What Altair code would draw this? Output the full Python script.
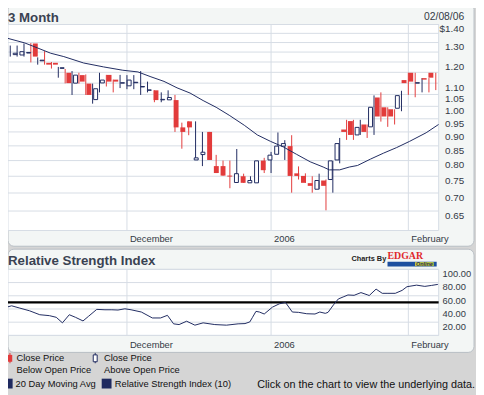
import altair as alt
import numpy as np
import pandas as pd

# ---------------- data ----------------
day_index = list(range(63))
opens = [1.237, 1.235, 1.245, 1.295, 1.206, 1.196, 1.196, 1.169, 1.148, 1.100,
         1.137, 1.098, 1.028, 1.101, 1.138, 1.116, 1.100, 1.088, 1.102, 1.083,
         1.068, 1.068, 1.027, 1.027, 1.026, 0.917, 0.940, 0.802, 0.820, 0.900,
         0.782, 0.782, 0.752, 0.731, 0.750, 0.730, 0.730, 0.800, 0.802, 0.821,
         0.849, 0.849, 0.759, 0.751, 0.729, 0.711, 0.737, 0.740, 0.802, 0.909,
         0.941, 0.889, 0.928, 0.919, 1.037, 0.996, 0.988, 0.992, 1.114, 1.148,
         1.100, 1.123, 1.148]
highs = [1.284, 1.284, 1.295, 1.297, 1.223, 1.255, 1.200, 1.176, 1.166, 1.156,
         1.148, 1.140, 1.098, 1.148, 1.138, 1.116, 1.138, 1.137, 1.137, 1.156,
         1.107, 1.068, 1.059, 1.068, 1.048, 0.935, 0.940, 0.940, 0.900, 0.900,
         0.819, 0.800, 0.800, 0.839, 0.758, 0.750, 0.799, 0.809, 0.829, 0.898,
         0.870, 0.888, 0.781, 0.759, 0.750, 0.758, 0.740, 0.799, 0.878, 0.946,
         0.946, 0.946, 0.928, 1.046, 1.059, 0.996, 0.988, 1.066, 1.148, 1.148,
         1.123, 1.123, 1.148]
lows = [1.227, 1.227, 1.227, 1.198, 1.187, 1.187, 1.168, 1.125, 1.099, 1.048,
        1.098, 1.048, 1.011, 1.059, 1.085, 1.059, 1.078, 1.073, 1.073, 1.048,
        1.059, 1.017, 1.017, 1.027, 0.900, 0.840, 0.888, 0.802, 0.782, 0.802,
        0.760, 0.752, 0.714, 0.731, 0.730, 0.730, 0.730, 0.760, 0.760, 0.821,
        0.802, 0.701, 0.740, 0.730, 0.701, 0.711, 0.652, 0.701, 0.791, 0.871,
        0.871, 0.889, 0.878, 0.889, 0.939, 0.919, 0.928, 0.980, 1.048, 1.038,
        1.059, 1.059, 1.069]
closes = [1.244, 1.252, 1.248, 1.227, 1.209, 1.187, 1.187, 1.172, 1.100, 1.137,
          1.107, 1.048, 1.075, 1.114, 1.107, 1.107, 1.102, 1.114, 1.104, 1.085,
          1.070, 1.026, 1.029, 1.037, 0.917, 0.900, 0.917, 0.809, 0.828, 0.802,
          0.760, 0.752, 0.749, 0.758, 0.730, 0.737, 0.799, 0.769, 0.818, 0.849,
          0.858, 0.751, 0.751, 0.730, 0.721, 0.737, 0.721, 0.799, 0.858, 0.900,
          0.889, 0.917, 0.900, 0.996, 0.959, 0.959, 0.959, 1.045, 1.100, 1.107,
          1.102, 1.116, 1.125]

ma_pos = [-0.5, 2.1, 4.0, 5.9, 7.8, 10.7, 13.6, 16.4, 18.6, 20.5, 22.4, 24.3,
          26.2, 28.1, 30.0, 31.9, 34.1, 36.0, 37.9, 39.8, 41.7, 43.7, 45.6,
          46.5, 48.0, 49.4, 50.6, 52.5, 54.4, 56.3, 58.2, 60.6, 62.4]
ma_val = [1.324, 1.298, 1.271, 1.244, 1.227, 1.195, 1.176, 1.160, 1.152, 1.129,
          1.108, 1.079, 1.056, 1.024, 0.996, 0.964, 0.925, 0.889, 0.866, 0.846,
          0.821, 0.796, 0.779, 0.770, 0.770, 0.779, 0.784, 0.805, 0.825, 0.844,
          0.866, 0.897, 0.928]

rsi_pos = [-0.5, 0.2, 1.4, 2.8, 4.3, 5.7, 6.7, 7.6, 8.6, 9.5, 10.6, 11.4, 12.6,
           13.8, 14.8, 15.7, 16.7, 17.6, 19.1, 20.7, 21.9, 22.9, 23.8, 24.6,
           25.7, 26.9, 28.1, 29.8, 31.5, 33.2, 34.2, 34.9, 35.3, 35.8, 36.3,
           37.0, 38.2, 39.2, 40.1, 41.1, 42.0, 43.2, 44.4, 45.1, 45.9, 46.3,
           47.1, 47.8, 48.5, 49.2, 50.1, 51.1, 52.1, 52.3, 53.3, 54.2, 54.9,
           56.1, 57.1, 57.8, 59.2, 60.4, 61.4, 62.3]
rsi_val = [42.8, 44.8, 41.3, 37.3, 31.3, 29.9, 27.4, 19.0, 31.3, 27.4, 21.9,
           28.9, 39.4, 38.8, 38.8, 38.4, 40.3, 38.8, 35.4, 26.4, 26.4, 30.4,
           17.5, 16.4, 21.5, 15.5, 19.0, 16.4, 15.5, 17.5, 17.9, 20.4, 27.4,
           36.4, 35.4, 32.4, 42.8, 47.8, 49.9, 35.4, 34.9, 32.8, 32.4, 35.4,
           33.4, 34.9, 46.3, 55.2, 58.2, 61.2, 60.7, 64.8, 61.2, 60.3, 70.1,
           63.7, 63.7, 63.7, 68.2, 73.7, 76.1, 74.2, 75.7, 77.2]
rsi_ref_level = [50]

price_grid = [1.40, 1.35, 1.30, 1.25, 1.20, 1.15, 1.10, 1.05, 1.00, 0.95,
              0.90, 0.85, 0.80, 0.75, 0.70, 0.65]
price_ticks = [1.40, 1.30, 1.20, 1.10, 1.05, 1.00, 0.95, 0.90, 0.85, 0.80,
               0.75, 0.70, 0.65]
price_tick_labels = ["$1.40", "1.30", "1.20", "1.10", "1.05", "1.00", "0.95",
                     "0.90", "0.85", "0.80", "0.75", "0.70", "0.65"]
rsi_grid = [0, 20, 40, 60, 80, 100]
rsi_ticks = [100, 80, 60, 40, 20]
rsi_tick_labels = ["100.00", "80.00", "60.00", "40.00", "20.00"]
month_pos = [17, 38, 58]
month_labels = ["December", "2006", "February"]

# ---------------- styling / layout ----------------
RED = "#e23b3b"
NAVY = "#1f2a60"
GRID = "#d6dce4"
PANEL = "#f3f6f5"
PANEL_STROKE = "#b8bec4"
BG = "#d5d5d5"
TXT = "#343a46"
TITLE = "#3a4252"
FONT = "Liberation Sans"

W, H = 476, 387
PX0, PX1 = 0, 438          # plot x extent
PY0, PY1 = 13.5, 223       # price plot y extent
RY0, RY1 = 262.5, 329.7    # rsi plot y extent

XS = alt.Scale(domain=[0, 62], range=[2.3, 435.1], nice=False, zero=False)
PS = alt.Scale(type="log", domain=[0.6, 1.4], range=[PY1, PY0], nice=False)
RS = alt.Scale(domain=[0, 100], range=[RY1, RY0], nice=False, zero=False)

one = pd.DataFrame({"k": [0]})

df = pd.DataFrame({"i": day_index, "open": opens, "high": highs,
                   "low": lows, "close": closes})
df["dir"] = np.where(df["close"] < df["open"], "down", "up")
down = df[df["dir"] == "down"]
up = df[df["dir"] == "up"]
ma = pd.DataFrame({"pos": ma_pos, "val": ma_val})
rsi = pd.DataFrame({"pos": rsi_pos, "val": rsi_val})
pg = pd.DataFrame({"v": price_grid})
pt = pd.DataFrame({"v": price_ticks, "t": price_tick_labels})
rg = pd.DataFrame({"v": rsi_grid})
rt = pd.DataFrame({"v": rsi_ticks, "t": rsi_tick_labels})
mo = pd.DataFrame({"i": month_pos, "t": month_labels})
ref = pd.DataFrame({"v": rsi_ref_level})


def box(x, x2, y, y2, **kw):
    return alt.Chart(one).mark_rect(**kw).encode(
        x=alt.value(x), x2=alt.value(x2), y=alt.value(y), y2=alt.value(y2))


def label(text, x, y, **kw):
    base = dict(font=FONT, fontSize=9.5, color="#111111", align="left",
                baseline="middle")
    base.update(kw)
    return alt.Chart(one).mark_text(text=text, **base).encode(
        x=alt.value(x), y=alt.value(y))


layers = []
# panels
layers.append(box(0, 474, -8, 239, fill=PANEL, stroke=PANEL_STROKE,
                  strokeWidth=1, cornerRadius=6))
layers.append(box(0, 474, 242, 347, fill=PANEL, stroke=PANEL_STROKE,
                  strokeWidth=1, cornerRadius=6))
# plot areas
layers.append(box(PX0, PX1, PY0, PY1, fill="white", stroke=GRID, strokeWidth=1))
layers.append(box(PX0, PX1, RY0, RY1, fill="white", stroke=GRID, strokeWidth=1))

# gridlines
layers.append(alt.Chart(pg).mark_rule(color=GRID, strokeWidth=1).encode(
    y=alt.Y("v:Q", scale=PS, axis=None), x=alt.value(PX0), x2=alt.value(PX1)))
layers.append(alt.Chart(rg).mark_rule(color=GRID, strokeWidth=1).encode(
    y=alt.Y("v:Q", scale=RS, axis=None), x=alt.value(PX0), x2=alt.value(PX1)))
layers.append(alt.Chart(mo).mark_rule(color=GRID, strokeWidth=1).encode(
    x=alt.X("i:Q", scale=XS, axis=None), y=alt.value(PY0), y2=alt.value(PY1)))
layers.append(alt.Chart(mo).mark_rule(color=GRID, strokeWidth=1).encode(
    x=alt.X("i:Q", scale=XS, axis=None), y=alt.value(RY0), y2=alt.value(RY1)))

# candles
layers.append(alt.Chart(df).mark_rule(strokeWidth=1).encode(
    x=alt.X("i:Q", scale=XS, axis=None),
    y=alt.Y("low:Q", scale=PS, axis=None), y2="high:Q",
    color=alt.Color("dir:N", scale=alt.Scale(domain=["down", "up"],
                                             range=[RED, NAVY]), legend=None)))
layers.append(alt.Chart(down).mark_bar(size=5, color=RED).encode(
    x=alt.X("i:Q", scale=XS, axis=None),
    y=alt.Y("open:Q", scale=PS, axis=None), y2="close:Q"))
layers.append(alt.Chart(up).mark_bar(size=4, fill="white", stroke=NAVY,
                                     strokeWidth=1).encode(
    x=alt.X("i:Q", scale=XS, axis=None),
    y=alt.Y("open:Q", scale=PS, axis=None), y2="close:Q"))

# moving average
layers.append(alt.Chart(ma).mark_line(color=NAVY, strokeWidth=1).encode(
    x=alt.X("pos:Q", scale=XS, axis=None),
    y=alt.Y("val:Q", scale=PS, axis=None)))

# RSI
layers.append(alt.Chart(ref).mark_rule(color="black", strokeWidth=2.5).encode(
    y=alt.Y("v:Q", scale=RS, axis=None), x=alt.value(PX0), x2=alt.value(PX1)))
layers.append(alt.Chart(rsi).mark_line(color=NAVY, strokeWidth=1).encode(
    x=alt.X("pos:Q", scale=XS, axis=None),
    y=alt.Y("val:Q", scale=RS, axis=None)))

# axis labels
layers.append(alt.Chart(pt).mark_text(font=FONT, fontSize=10, color=TXT,
                                      align="right", baseline="middle",
                                      dy=5).encode(
    y=alt.Y("v:Q", scale=PS, axis=None), x=alt.value(464), text="t:N"))
layers.append(alt.Chart(rt).mark_text(font=FONT, fontSize=9.5, color=TXT,
                                      align="left", baseline="middle",
                                      dy=5).encode(
    y=alt.Y("v:Q", scale=RS, axis=None), x=alt.value(442), text="t:N"))
for yy in (232, 339.3):
    layers.append(alt.Chart(mo).mark_text(font=FONT, fontSize=9.5, color=TXT,
                                          align="left", baseline="middle",
                                          dx=3).encode(
        x=alt.X("i:Q", scale=XS, axis=None), y=alt.value(yy), text="t:N"))

# titles
layers.append(label("3 Month", 0, 10.5, fontSize=13.5, fontWeight="bold",
                    color=TITLE, baseline="alphabetic"))
layers.append(label("Relative Strength Index", 0, 258, fontSize=13.5,
                    fontWeight="bold", color=TITLE, baseline="alphabetic"))
layers.append(label("02/08/06", 464, 6, fontSize=10.5, color=TXT,
                    align="right"))

# EDGAR logo
layers.append(label("Charts By", 384.7, 252.5, fontSize=7.5, align="right",
                    fontWeight="bold", color="#222222"))
layers.append(label("EDGAR", 386, 252, fontSize=10, font="Liberation Serif",
                    fontWeight="bold", color="#e0282c", baseline="alphabetic"))
layers.append(box(386, 436, 254.7, 259.7, fill="#1d4f9e"))
layers.append(box(414, 433, 255.2, 259.2, fill="#c9cf3c"))
layers.append(label("Online", 423.5, 257.3, fontSize=5.5, align="center",
                    fontWeight="bold", fontStyle="italic", color="#1d2a55"))

# legend
layers.append(alt.Chart(one).mark_rule(color=RED, strokeWidth=1).encode(
    x=alt.value(2), y=alt.value(347.5), y2=alt.value(358)))
layers.append(box(-0.3, 4.3, 349.5, 356.5, fill=RED))
layers.append(alt.Chart(one).mark_rule(color=NAVY, strokeWidth=1).encode(
    x=alt.value(88.7), y=alt.value(347.5), y2=alt.value(358)))
layers.append(box(86.7, 90.7, 349.5, 356.5, fill="white", stroke=NAVY,
                  strokeWidth=1))
layers.append(label("Close Price", 8.7, 352.7))
layers.append(label("Below Open Price", 8.7, 364.7))
layers.append(label("Close Price", 97.7, 352.7))
layers.append(label("Above Open Price", 97.7, 364.7))
layers.append(box(0, 4.7, 373.7, 383.7, fill=NAVY))
layers.append(label("20 Day Moving Avg", 7.7, 378.7))
layers.append(box(95.3, 105.3, 373.7, 383.7, fill=NAVY))
layers.append(label("Relative Strength Index (10)", 108.7, 378.7))
layers.append(label("Click on the chart to view the underlying data.", 475,
                    379.7, fontSize=11, align="right"))

chart = alt.layer(*layers).resolve_scale(
    x="independent", y="independent", color="independent"
).properties(
    width=W, height=H, padding=0, background=BG,
    autosize=alt.AutoSizeParams(type="none"),
).configure_view(stroke="transparent")

chart.save("out.html", embed_options={"renderer": "svg", "actions": False})
